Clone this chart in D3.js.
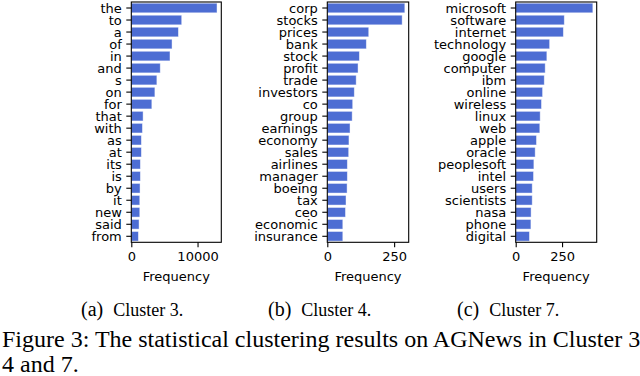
<!DOCTYPE html>
<html>
<head>
<meta charset="utf-8">
<script src="https://cdn.jsdelivr.net/npm/d3@7"></script>
<style>
  body { margin: 0; background: #fff; }
  svg { display: block; }
  .tick text { font-family: "DejaVu Sans", sans-serif; font-size: 13px; fill: #000; }
  .cap { font-family: "Liberation Serif", "Times New Roman", serif; fill: #000; }
</style>
</head>
<body>
<svg id="fig" width="640" height="376"></svg>
<script>
// cluster 3
const words3 = ["the", "to", "a", "of", "in", "and", "s", "on", "for", "that",
    "with", "as", "at", "its", "is", "by", "it", "new", "said", "from"];
const freq3 = [12940, 7610, 7110, 6150, 5840, 4370, 3860, 3560, 3100, 1780,
    1680, 1520, 1520, 1370, 1370, 1320, 1280, 1280, 1170, 1070];

// cluster 4
const words4 = ["corp", "stocks", "prices", "bank", "stock", "profit", "trade", "investors", "co", "group",
    "earnings", "economy", "sales", "airlines", "manager", "boeing", "tax", "ceo", "economic", "insurance"];
const freq4 = [290, 280, 155, 146, 120, 115, 108, 101, 95, 93,
    85, 81, 80, 75, 75, 74, 70, 68, 58, 58];

// cluster 7
const words7 = ["microsoft", "software", "internet", "technology", "google", "computer", "ibm", "online", "wireless", "linux",
    "web", "apple", "oracle", "peoplesoft", "intel", "users", "scientists", "nasa", "phone", "digital"];
const freq7 = [416, 262, 257, 183, 168, 159, 154, 145, 139, 132,
    130, 112, 105, 98, 96, 89, 89, 83, 82, 74];

const ticks3 = [0, 10000];
const ticks4 = [0, 250];
const ticks7 = [0, 250];

const subCaptions = [["(a)", "Cluster 3."], ["(b)", "Cluster 4."], ["(c)", "Cluster 7."]];
const figCaption = ["Figure 3: The statistical clustering results on AGNews in Cluster 3,", "4 and 7."];

const svg = d3.select("#fig");
const plotTop = 2, plotBottom = 242.3;
const barColor = "#4d6dd3";

const panels = [
    {words: words3, freq: freq3, ticks: ticks3, left: 131.3, right: 221.3, cap: 81},
    {words: words4, freq: freq4, ticks: ticks4, left: 327.3, right: 408.7, cap: 268},
    {words: words7, freq: freq7, ticks: ticks7, left: 515.7, right: 596.7, cap: 457}
];

panels.forEach((p, k) => {
    const g = svg.append("g");

    const x = d3.scaleLinear()
        .domain([0, d3.max(p.freq) * 1.05])
        .range([p.left, p.right]);
    const y = d3.scaleBand()
        .domain(p.words)
        .range([plotTop, plotBottom])
        .paddingInner(0.2)
        .paddingOuter(0.1);

    g.selectAll("rect.bar")
        .data(p.words)
        .join("rect")
        .attr("class", "bar")
        .attr("x", x(0))
        .attr("y", d => y(d))
        .attr("width", (d, i) => x(p.freq[i]) - x(0))
        .attr("height", y.bandwidth())
        .attr("fill", barColor)
        .attr("stroke", "#fff")
        .attr("stroke-opacity", 0.55)
        .attr("stroke-width", 0.8);

    // frame
    g.append("rect")
        .attr("x", p.left)
        .attr("y", plotTop)
        .attr("width", p.right - p.left)
        .attr("height", plotBottom - plotTop)
        .attr("fill", "none")
        .attr("stroke", "#000")
        .attr("stroke-width", 1.1);

    const yAxis = g.append("g")
        .attr("transform", `translate(${p.left},0)`)
        .call(d3.axisLeft(y).tickSize(5).tickPadding(4.5));
    const xAxis = g.append("g")
        .attr("transform", `translate(0,${plotBottom})`)
        .call(d3.axisBottom(x).tickValues(p.ticks).tickFormat(d3.format("d")).tickSize(5).tickPadding(4));

    [yAxis, xAxis].forEach(a => {
        a.select(".domain").remove();
        a.selectAll(".tick line").attr("stroke", "#000").attr("stroke-width", 1.1);
        a.selectAll(".tick text").attr("font-size", null).attr("font-family", null);
    });
    yAxis.selectAll(".tick text").attr("dy", "0.36em");

    g.append("text")
        .attr("x", (p.left + p.right) / 2)
        .attr("y", 280.5)
        .attr("text-anchor", "middle")
        .style("font-family", "DejaVu Sans, sans-serif")
        .style("font-size", "13px")
        .text("Frequency");

    const c = svg.append("text")
        .attr("class", "cap")
        .attr("x", p.cap)
        .attr("y", 315.5);
    c.append("tspan").style("font-size", "20px").text(subCaptions[k][0]);
    c.append("tspan").attr("dx", 10).style("font-size", "18px").text(subCaptions[k][1]);
});

figCaption.forEach((line, i) => {
    svg.append("text")
        .attr("class", "cap")
        .attr("x", 2)
        .attr("y", 347 + i * 25)
        .style("font-size", "24px")
        .text(line);
});
</script>
</body>
</html>
